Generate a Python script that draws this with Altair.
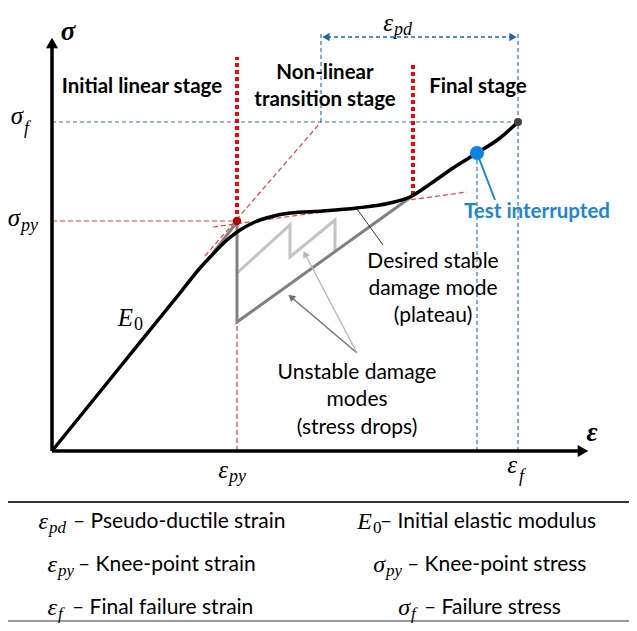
import altair as alt
import pandas as pd

# ---------------- data (strain ε in %, stress σ in arbitrary units) ----------------
curve_eps = [0.00, 0.68, 1.28, 1.48, 1.61, 1.75, 1.88, 2.03, 2.18, 2.38, 2.71, 3.05,
             3.38, 3.58, 3.81, 4.01, 4.25, 4.48, 4.66]
curve_sig = [0.00, 0.84, 1.58, 1.83, 1.97, 2.11, 2.21, 2.29, 2.34, 2.38, 2.40, 2.43,
             2.48, 2.54, 2.69, 2.83, 2.98, 3.13, 3.29]

EPS_PY, SIG_PY = 1.85, 2.30
EPS_F, SIG_F = 4.66, 3.29
EPS_PD0 = 2.69
EPS_T, SIG_T = 4.25, 2.98

# stage boundaries (thick red dotted)
bound_e = [1.85, 3.61]
bound_s1 = [2.30, 2.56]
bound_s2 = [3.94, 3.89]

# thin red dashed construction lines
red_e1 = [1.85, 0.00, 1.61, 1.53]
red_s1 = [0.00, 2.30, 2.24, 1.95]
red_e2 = [1.85, 1.85, 4.15, 2.69]
red_s2 = [2.30, 2.30, 2.59, 3.29]

# thin blue dashed lines
blue_e1 = [0.00, 2.69, 4.66, 4.25]
blue_s1 = [3.29, 3.29, 0.00, 0.00]
blue_e2 = [4.66, 2.69, 4.66, 4.25]
blue_s2 = [3.29, 4.18, 4.18, 2.98]

# axes
axis_e1 = [0.0, 0.0]
axis_s1 = [0.0, 0.0]
axis_e2 = [0.0, 5.26]
axis_s2 = [4.05, 0.0]

# damage-mode paths
dark_e = [1.61, 1.85, 1.85, 3.66]
dark_s = [1.98, 2.29, 1.29, 2.59]
light_e = [1.85, 2.38, 2.38, 2.83, 2.83]
light_s = [1.78, 2.26, 1.94, 2.31, 1.99]

# table rows
tab_base = ["ε", "ε", "ε", "E", "σ", "σ"]
tab_base_e = [-0.04, 0.05, 0.05, 3.20, 3.33, 3.58]
tab_sub = ["pd", "py", "f", "", "py", "f"]
tab_row_s = [-0.71, -1.14, -1.57, -0.71, -1.14, -1.57]
tab_desc = ["– Pseudo-ductile strain", "– Knee-point strain", "– Final failure strain",
            "– Initial elastic modulus", "– Knee-point stress", "– Failure stress"]
tab_desc_e = [0.21, 0.26, 0.20, 3.28, 3.55, 3.72]

# ---------------- scales ----------------
xs = alt.Scale(domain=[-0.44, 5.77], nice=False, zero=False)
ys = alt.Scale(domain=[-1.72, 4.43], nice=False, zero=False)


def X(f):
    return alt.X(f, type="quantitative", scale=xs, axis=None)


def Y(f):
    return alt.Y(f, type="quantitative", scale=ys, axis=None)


def seg_layer(e1, s1, e2, s2, **style):
    df = pd.DataFrame({"e1": e1, "s1": s1, "e2": e2, "s2": s2})
    return alt.Chart(df).mark_rule(**style).encode(
        x=X("e1"), y=Y("s1"), x2="e2", y2="s2")


def path_layer(e, s, **style):
    df = pd.DataFrame({"e": e, "s": s, "o": list(range(len(e)))})
    return alt.Chart(df).mark_line(**style).encode(
        x=X("e"), y=Y("s"), order="o:O")


def pt_layer(e, s, **style):
    df = pd.DataFrame({"e": e, "s": s})
    return alt.Chart(df).mark_point(filled=True, opacity=1, **style).encode(
        x=X("e"), y=Y("s"))


def text_layer(t, e, s, **style):
    df = pd.DataFrame({"t": t, "e": e, "s": s})
    return alt.Chart(df).mark_text(baseline="middle", **style).encode(
        x=X("e"), y=Y("s"), text="t:N")


SANS = "Lato"
SERIF = "Liberation Serif"

layers = []

# construction lines
layers.append(seg_layer(red_e1, red_s1, red_e2, red_s2, color="#f23a3a",
                        strokeWidth=1.2, strokeDash=[5, 3]))
layers.append(seg_layer(blue_e1, blue_s1, blue_e2, blue_s2, color="#2a74c8",
                        strokeWidth=1.2, strokeDash=[4, 3]))
layers.append(seg_layer(bound_e, bound_s1, bound_e, bound_s2, color="#ff0000",
                        strokeWidth=4, strokeDash=[4, 3]))
# epsilon_pd double arrow
layers.append(seg_layer([EPS_PD0 + 0.06], [4.14], [EPS_F - 0.06], [4.14], color="#1f64b8",
                        strokeWidth=1.3, strokeDash=[4, 3]))
layers.append(pt_layer([EPS_PD0 + 0.05], [4.14], shape="triangle-left", size=70, color="#1f64b8"))
layers.append(pt_layer([EPS_F - 0.05], [4.14], shape="triangle-right", size=70, color="#1f64b8"))

# damage mode paths
layers.append(path_layer(light_e, light_s, color="#c4c4c4", strokeWidth=3))
layers.append(path_layer(dark_e, dark_s, color="#808080", strokeWidth=3))

# axes
layers.append(seg_layer(axis_e1, axis_s1, axis_e2, axis_s2, color="#000000", strokeWidth=3.5))
layers.append(pt_layer([0.0], [4.08], shape="triangle-up", size=150, color="#000000"))
layers.append(pt_layer([5.31], [0.0], shape="triangle-right", size=150, color="#000000"))

# main curve
curve_df = pd.DataFrame({"e": curve_eps, "s": curve_sig})
layers.append(alt.Chart(curve_df).mark_line(color="#000000", strokeWidth=3.5,
                                            interpolate="monotone").encode(x=X("e"), y=Y("s")))

# annotation pointers
layers.append(seg_layer([3.05], [2.42], [3.31], [2.06], color="#333333", strokeWidth=1))
layers.append(seg_layer([3.05], [0.98], [2.39], [1.54], color="#707070", strokeWidth=1.4))
layers.append(seg_layer([3.05], [0.98], [2.53], [1.97], color="#b8b8b8", strokeWidth=1.4))
layers.append(pt_layer([2.39], [1.54], shape="triangle-up", size=60, color="#707070", angle=310))
layers.append(pt_layer([2.53], [1.97], shape="triangle-up", size=60, color="#b8b8b8", angle=332))
layers.append(seg_layer([EPS_T], [SIG_T], [4.43], [2.51], color="#1a86dc", strokeWidth=2))

# key points
layers.append(pt_layer([EPS_PY], [SIG_PY], shape="circle", size=70, color="#b00000"))
layers.append(pt_layer([EPS_F], [SIG_F], shape="circle", size=64, color="#404040"))
layers.append(pt_layer([EPS_T], [SIG_T], shape="circle", size=200, color="#0a84e6"))

# stage labels
layers.append(text_layer(["Initial linear stage", "Non-linear", "transition stage", "Final stage"],
                         [0.90, 2.73, 2.73, 4.26], [3.64, 3.78, 3.51, 3.64],
                         font=SANS, fontSize=20.5, fontWeight="bold", align="center",
                         color="#000000"))
layers.append(text_layer(["Test interrupted"], [4.85], [2.39], font=SANS, fontSize=20.5,
                         fontWeight="bold", align="center", color="#1a86dc"))
layers.append(text_layer(["Desired stable", "damage mode", "(plateau)",
                          "Unstable damage", "modes", "(stress drops)"],
                         [3.81, 3.81, 3.81, 3.05, 3.05, 3.05],
                         [1.89, 1.62, 1.35, 0.78, 0.51, 0.23],
                         font=SANS, fontSize=21, align="center", color="#000000"))

# axis symbols
layers.append(text_layer(["σ", "ε"], [0.16, 5.40], [4.19, 0.18], font=SERIF, fontSize=27,
                         fontStyle="italic", fontWeight="bold", align="center", color="#000000"))
# math labels on chart
layers.append(text_layer(["σ", "σ", "ε", "ε", "ε", "E"],
                         [-0.29, -0.32, 1.76, 4.65, 3.41, 0.81],
                         [3.35, 2.33, -0.19, -0.14, 4.28, 1.33],
                         font=SERIF, fontSize=25, fontStyle="italic", align="right",
                         color="#000000"))
layers.append(text_layer(["f", "py", "py", "f", "pd"],
                         [-0.28, -0.31, 1.77, 4.67, 3.42],
                         [3.22, 2.25, -0.26, -0.26, 4.21],
                         font=SERIF, fontSize=18, fontStyle="italic", align="left",
                         color="#000000"))
layers.append(text_layer(["0"], [0.82], [1.26], font=SERIF, fontSize=18, align="left",
                         color="#000000"))

# table
layers.append(seg_layer([-0.44], [-0.51], [5.77], [-0.51], color="#333333", strokeWidth=2))
layers.append(seg_layer([-0.44], [-1.70], [5.77], [-1.70], color="#9a9a9a", strokeWidth=2))
layers.append(text_layer(tab_base, tab_base_e, tab_row_s, font=SERIF, fontSize=24,
                         fontStyle="italic", align="right", color="#000000"))
sub_italic = [i for i in range(6) if tab_sub[i] != ""]
layers.append(text_layer([tab_sub[i] for i in sub_italic],
                         [tab_base_e[i] + 0.01 for i in sub_italic],
                         [tab_row_s[i] - 0.06 for i in sub_italic],
                         font=SERIF, fontSize=17, fontStyle="italic", align="left",
                         color="#000000"))
layers.append(text_layer(["0"], [3.21], [-0.77], font=SERIF, fontSize=17, align="left",
                         color="#000000"))
layers.append(text_layer(tab_desc, tab_desc_e, tab_row_s, font=SANS, fontSize=21,
                         align="left", color="#000000"))

chart = alt.layer(*layers).properties(
    width=621, height=615, padding=0, autosize="none"
).configure_view(stroke=None)

chart.save("out.html", embed_options={"renderer": "svg", "actions": False})
